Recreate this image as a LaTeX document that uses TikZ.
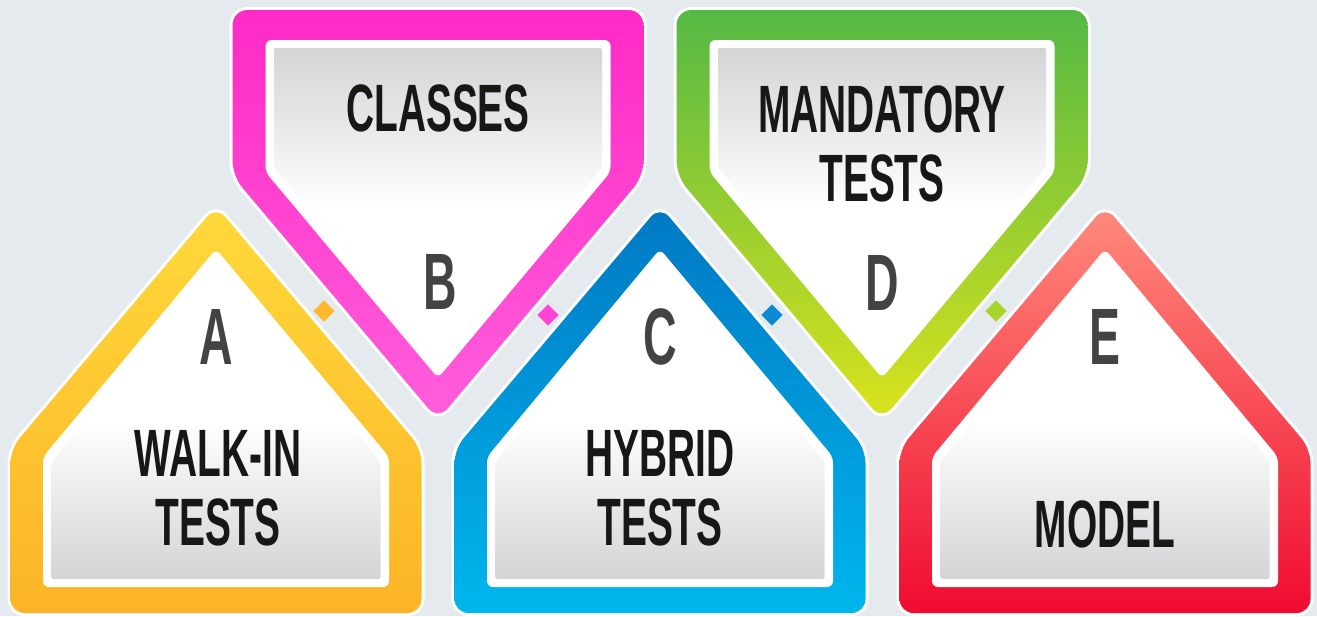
\documentclass[tikz,border=0pt]{standalone}
\usepackage{fontspec}
\newfontfamily\cond[FakeStretch=0.58]{Liberation Sans}
\definecolor{bg}{HTML}{E5EAEE}
\definecolor{innergray}{HTML}{D3D4D6}
\definecolor{lettercol}{HTML}{444244}
\definecolor{textcol}{HTML}{161816}
\definecolor{aTop}{HTML}{FFD93B}
\definecolor{aBot}{HTML}{FCB426}
\definecolor{bTop}{HTML}{FF2AC6}
\definecolor{bBot}{HTML}{FF5EDC}
\definecolor{cTop}{HTML}{0078C4}
\definecolor{cBot}{HTML}{00B6EC}
\definecolor{dTop}{HTML}{55B945}
\definecolor{dBot}{HTML}{DAE31C}
\definecolor{eTop}{HTML}{FF8B7C}
\definecolor{eBot}{HTML}{F00B30}
\definecolor{sqA}{HTML}{FBB92B}
\definecolor{sqB}{HTML}{FF44D6}
\definecolor{sqC}{HTML}{0A8AD2}
\definecolor{sqD}{HTML}{A8D32A}
\newcommand\pentUp[3]{%
\begin{scope}[shift={(#1,0)}]
 \draw[white, line width=6pt, rounded corners=14pt] (-205.5,613) -- (-205.5,449) -- (0,206) -- (205.5,449) -- (205.5,613) -- cycle;
 \shade[rounded corners=14pt, top color=#2, bottom color=#3] (-205.5,613) -- (-205.5,449) -- (0,206) -- (205.5,449) -- (205.5,613) -- cycle;
 \fill[white, rounded corners=6pt] (-173,587) -- (-173,457) -- (0,249) -- (173,457) -- (173,587) -- cycle;
 \shade[rounded corners=2pt, top color=white, bottom color=innergray, middle color=white] (-164.5,579) -- (-164.5,462) -- (0,262) -- (164.5,462) -- (164.5,579) -- cycle;
\end{scope}}
\newcommand\pentDown[3]{%
\begin{scope}[shift={(#1,0)}]
 \draw[white, line width=6pt, rounded corners=15pt] (-205.5,10) -- (205.5,10) -- (205.5,176) -- (0,420) -- (-205.5,176) -- cycle;
 \shade[rounded corners=15pt, top color=#2, bottom color=#3] (-205.5,10) -- (205.5,10) -- (205.5,176) -- (0,420) -- (-205.5,176) -- cycle;
 \fill[white, rounded corners=6pt] (-172.5,40) -- (172.5,40) -- (172.5,172) -- (0,378) -- (-172.5,172) -- cycle;
 \shade[rounded corners=2pt, top color=innergray, bottom color=white, middle color=white] (-164,48) -- (164,48) -- (164,167) -- (0,366) -- (-164,167) -- cycle;
\end{scope}}
\tikzset{
 letterlbl/.style={inner sep=0pt, text=lettercol, font=\cond\bfseries\fontsize{80}{80}\selectfont},
 mainlbl/.style={inner sep=0pt, text=textcol, align=center, font=\cond\bfseries\fontsize{67}{69}\selectfont},
 sq/.style={inner sep=0pt, minimum size=15pt, rotate=45, draw=none}
}
\begin{document}
\begin{tikzpicture}[x=1pt,y=-1pt]
\fill[bg] (0,0) rectangle (1317,616);
\useasboundingbox (0,0) rectangle (1317,616);
\pentUp{216}{aTop}{aBot}
\pentDown{438}{bTop}{bBot}
\pentUp{660}{cTop}{cBot}
\pentDown{882}{dTop}{dBot}
\pentUp{1105}{eTop}{eBot}
% connectors
\node[sq, fill=sqA] (sab) at (324,311) {};
\node[sq, fill=sqB] (sbc) at (548,315) {};
\node[sq, fill=sqC] (scd) at (772,315) {};
\node[sq, fill=sqD] (sde) at (996,311) {};
% letters
\node[letterlbl] (la) at (216,337) {A};
\node[letterlbl] (lb) at (440,282) {B};
\node[letterlbl] (lc) at (660,337) {C};
\node[letterlbl] (ld) at (882,283) {D};
\node[letterlbl] (le) at (1105,337) {E};
% texts
\node[mainlbl] (ta) at (218,488.5) {WALK-IN\\TESTS};
\node[mainlbl] (tb) at (438,108) {CLASSES};
\node[mainlbl] (tc) at (660,488.5) {HYBRID\\TESTS};
\node[mainlbl] (td) at (882,144) {MANDATORY\\TESTS};
\node[mainlbl] (te) at (1105,524) {MODEL};
\end{tikzpicture}
\end{document}
